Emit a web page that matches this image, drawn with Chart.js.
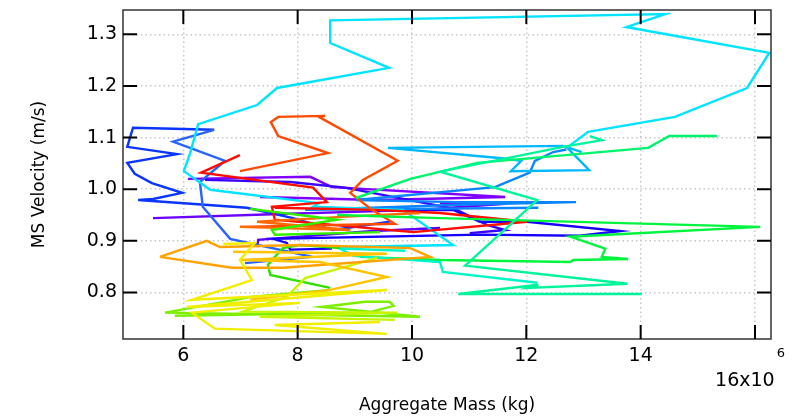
<!DOCTYPE html>
<html>
<head>
<meta charset="utf-8">
<script src="https://cdn.jsdelivr.net/npm/chart.js@4.4.1/dist/chart.umd.min.js"></script>
<style>
  html, body { margin: 0; padding: 0; background: #fff; }
  #wrap { width: 801px; height: 420px; }
</style>
</head>
<body>
<div id="wrap"><canvas id="grafico" width="801" height="420"></canvas></div>
<script>
// Eixos (massa em 10^6 kg, velocidade em m/s)
const xTicks = [6, 8, 10, 12, 14, 16];
const yTicks = [0.8, 0.9, 1.0, 1.1, 1.2, 1.3];

// Séries (massa x10^6 kg / velocidade m/s)
const massCyan = [8.74, 10.72, 9.84, 8.27, 8.37, 6.47, 6.01, 6.12, 6.26, 7.29, 7.64, 9.60, 8.57, 8.57, 14.43, 13.75, 16.25, 15.86, 14.60, 13.08, 12.73];
const velCyan  = [0.888, 0.892, 0.960, 0.966, 0.973, 0.999, 1.035, 1.070, 1.126, 1.163, 1.196, 1.235, 1.283, 1.327, 1.339, 1.314, 1.264, 1.196, 1.140, 1.111, 1.082];

const massSky = [12.97, 12.64, 9.58, 11.57, 11.91, 11.73, 13.10, 12.70];
const velSky  = [1.072, 1.084, 1.080, 1.060, 1.055, 1.035, 1.037, 1.082];

const massDodger = [12.70, 12.47, 12.15, 12.06, 11.45, 9.02, 10.77, 12.87, 10.84, 8.13, 12.21];
const velDodger  = [1.077, 1.072, 1.055, 1.032, 1.004, 0.979, 0.975, 0.975, 0.970, 0.960, 0.964];

const massRoyal = [7.08, 8.25, 6.82, 6.34, 6.29, 6.73, 5.82, 6.54];
const velRoyal  = [0.857, 0.869, 0.904, 0.966, 1.014, 1.055, 1.092, 1.115];

const massBlue1 = [6.54, 5.12, 5.02, 5.89, 5.02, 5.15, 5.45, 5.98, 5.47, 5.21, 7.11, 7.92, 8.62, 9.61];
const velBlue1  = [1.115, 1.119, 1.082, 1.068, 1.051, 1.030, 1.012, 0.993, 0.981, 0.979, 0.964, 0.944, 0.921, 0.937];

const massBlue2 = [8.60, 7.87, 7.81, 7.57, 11.19, 12.94, 13.64, 12.01, 11.19, 10.72, 9.61];
const velBlue2  = [0.885, 0.883, 0.896, 0.904, 0.912, 0.910, 0.919, 0.937, 0.937, 0.960, 0.958];

const massBlueViolet = [6.38, 7.87, 8.83, 10.75, 11.31, 11.63, 11.01];
const velBlueViolet  = [1.018, 1.014, 1.003, 0.962, 0.931, 0.921, 0.915];

const massViolet1 = [6.08, 8.22, 8.60, 11.63, 9.39, 7.34];
const velViolet1  = [1.020, 1.024, 1.004, 0.985, 0.979, 0.985];

const massViolet2 = [5.47, 7.69, 10.14, 11.63, 10.49];
const velViolet2  = [0.944, 0.952, 0.960, 0.972, 0.973];

const massViolet3 = [7.29, 7.31, 9.32, 10.49];
const velViolet3  = [0.888, 0.902, 0.919, 0.925];

const massRed = [6.99, 6.31, 8.27, 8.51, 7.55, 7.60, 10.02, 12.01, 10.49, 9.39, 7.60];
const velRed  = [1.066, 1.032, 1.003, 0.975, 0.966, 0.941, 0.917, 0.937, 0.954, 0.960, 0.964];

const massOrangeRed = [6.99, 8.53, 7.66, 7.53, 7.66, 8.48, 8.37, 9.75, 9.14, 8.92, 9.30, 9.70, 6.99];
const velOrangeRed  = [1.035, 1.070, 1.103, 1.130, 1.140, 1.142, 1.140, 1.055, 1.018, 0.993, 0.960, 0.933, 0.927];

const massOrangeRed2 = [6.99, 8.92, 7.29, 8.69, 10.14];
const velOrangeRed2  = [0.927, 0.921, 0.937, 0.946, 0.954];

const massOrange = [5.59, 6.41, 6.64, 8.04, 9.97, 10.32, 7.74, 6.85, 5.59];
const velOrange  = [0.869, 0.900, 0.888, 0.892, 0.886, 0.869, 0.848, 0.848, 0.869];

const massAmber = [6.87, 9.56, 6.99, 8.39, 9.56, 8.57, 7.17];
const velAmber  = [0.879, 0.875, 0.863, 0.859, 0.830, 0.805, 0.786];

const massYellow = [6.70, 7.25, 6.99, 7.20, 6.15, 9.56, 6.06, 8.04, 6.15, 6.55, 9.56, 7.60, 9.44];
const velYellow  = [0.894, 0.896, 0.863, 0.824, 0.786, 0.805, 0.772, 0.780, 0.761, 0.730, 0.720, 0.737, 0.743];

const massYellowGreen = [9.39, 8.13, 7.81, 7.04, 9.74, 7.34, 9.70];
const velYellowGreen  = [0.867, 0.828, 0.792, 0.763, 0.761, 0.753, 0.747];

const massLime = [8.57, 7.22, 5.68, 10.14, 8.42, 9.18, 9.61, 9.68, 9.23, 5.85];
const velLime  = [0.805, 0.792, 0.761, 0.753, 0.772, 0.782, 0.782, 0.774, 0.761, 0.755];

const massGreen1 = [8.57, 7.52, 7.48, 7.74, 8.04, 8.74];
const velGreen1  = [0.809, 0.834, 0.854, 0.886, 0.892, 0.886];

const massGreen2 = [7.17, 8.69, 7.55, 7.60, 9.44];
const velGreen2  = [0.962, 0.941, 0.921, 0.912, 0.917];

const massSpring1 = [8.69, 10.49, 16.09, 12.77, 13.38, 13.32, 13.78, 12.82, 12.77, 10.49, 9.09];
const velSpring1  = [0.950, 0.944, 0.927, 0.908, 0.885, 0.869, 0.865, 0.863, 0.859, 0.863, 0.869];

const massSpring2 = [15.34, 14.50, 14.13, 11.14, 9.97, 9.02];
const velSpring2  = [1.103, 1.103, 1.080, 1.051, 1.020, 0.983];

const massSpring3 = [13.11, 13.32, 12.64, 10.49, 12.19, 10.93, 13.77, 12.03, 12.21, 10.81, 14.02];
const velSpring3  = [1.103, 1.095, 1.082, 1.034, 0.979, 0.852, 0.817, 0.809, 0.815, 0.797, 0.797];

const massTurq = [9.88, 8.74, 8.97, 10.49, 10.54, 12.19];
const velTurq  = [0.881, 0.885, 0.871, 0.859, 0.840, 0.819];

const series = [
  [massYellow, velYellow, "#f2ee00"],
  [massAmber, velAmber, "#ffc400"],
  [massOrange, velOrange, "#ffa200"],
  [massYellowGreen, velYellowGreen, "#c6f500"],
  [massLime, velLime, "#7cf000"],
  [massGreen1, velGreen1, "#2ee000"],
  [massGreen2, velGreen2, "#33f000"],
  [massTurq, velTurq, "#00f5c8"],
  [massSpring3, velSpring3, "#00f59a"],
  [massSpring2, velSpring2, "#00f56a"],
  [massSpring1, velSpring1, "#00f53c"],
  [massOrangeRed2, velOrangeRed2, "#ff6a00"],
  [massOrangeRed, velOrangeRed, "#ff4a00"],
  [massRed, velRed, "#ff0d00"],
  [massCyan, velCyan, "#00e4ff"],
  [massSky, velSky, "#00b8ff"],
  [massDodger, velDodger, "#0a84ff"],
  [massRoyal, velRoyal, "#2a64ff"],
  [massBlue1, velBlue1, "#0a34ff"],
  [massBlue2, velBlue2, "#1800ff"],
  [massBlueViolet, velBlueViolet, "#3a00ff"],
  [massViolet3, velViolet3, "#5a00ff"],
  [massViolet2, velViolet2, "#6c00ff"],
  [massViolet1, velViolet1, "#8000ff"]
];

const datasets = series.map(([m, v, cor]) => ({
  data: m.map((x, i) => ({ x, y: v[i] })),
  borderColor: cor,
  borderWidth: 2.4,
  pointRadius: 0,
  tension: 0,
  fill: false
}));

const FONTE = "'DejaVu Sans', sans-serif";

// Moldura estilo Igor: caixa fechada, ticks para dentro, rótulo 16x10^6
const molduraIgor = {
  id: "molduraIgor",
  afterDraw(chart) {
    const { ctx, chartArea: a, scales: { x, y } } = chart;
    ctx.save();
    ctx.strokeStyle = "#333";
    ctx.lineWidth = 1.5;
    ctx.strokeRect(a.left, a.top, a.right - a.left, a.bottom - a.top);

    ctx.strokeStyle = "#000";
    ctx.lineWidth = 2;
    ctx.beginPath();
    xTicks.forEach(v => {
      const px = x.getPixelForValue(v);
      ctx.moveTo(px, a.bottom); ctx.lineTo(px, a.bottom - 14);
      ctx.moveTo(px, a.top); ctx.lineTo(px, a.top + 14);
    });
    yTicks.forEach(v => {
      const py = y.getPixelForValue(v);
      ctx.moveTo(a.left, py); ctx.lineTo(a.left + 14, py);
      ctx.moveTo(a.right, py); ctx.lineTo(a.right - 14, py);
    });
    ctx.stroke();

    // último rótulo com expoente
    const ultimo = xTicks[xTicks.length - 1];
    const base = ultimo + "x10";
    ctx.fillStyle = "#000";
    ctx.textBaseline = "alphabetic";
    ctx.textAlign = "left";
    ctx.font = "19px " + FONTE;
    const w1 = ctx.measureText(base).width;
    ctx.font = "13px " + FONTE;
    const w2 = ctx.measureText("6").width;
    const x0 = x.getPixelForValue(ultimo) - (w1 + w2) / 2 - 6;
    ctx.font = "19px " + FONTE;
    ctx.fillText(base, x0, a.bottom + 47);
    ctx.font = "13px " + FONTE;
    ctx.fillText("6", x0 + w1 + 2, a.bottom + 18);
    ctx.restore();
  }
};

new Chart(document.getElementById("grafico").getContext("2d"), {
  type: "line",
  data: { datasets },
  plugins: [molduraIgor],
  options: {
    responsive: false,
    animation: false,
    layout: { padding: { left: 0, right: 30, top: 10, bottom: 0 } },
    plugins: { legend: { display: false }, tooltip: { enabled: false } },
    scales: {
      x: {
        type: "linear",
        min: 4.945,
        max: 16.28,
        afterBuildTicks: s => { s.ticks = xTicks.map(v => ({ value: v })); },
        afterFit: s => { s.height = 81; s.paddingLeft = 0; s.paddingRight = 0; },
        ticks: {
          font: { family: FONTE, size: 19 },
          color: "#000",
          padding: 6,
          maxRotation: 0,
          callback: v => (v === xTicks[xTicks.length - 1] ? "" : String(v))
        },
        grid: { color: "#c8c8c8", lineWidth: 1.5, drawTicks: false },
        border: { display: false, dash: [1.5, 3] },
        title: {
          display: true,
          text: "Aggregate Mass (kg)",
          font: { family: FONTE, size: 17 },
          color: "#000",
          padding: { top: 0, bottom: 4 }
        }
      },
      y: {
        type: "linear",
        min: 0.710,
        max: 1.347,
        afterBuildTicks: s => { s.ticks = yTicks.map(v => ({ value: v })); },
        afterFit: s => { s.width = 123; s.paddingTop = 0; s.paddingBottom = 0; },
        ticks: {
          font: { family: FONTE, size: 19 },
          color: "#000",
          padding: 6,
          callback: v => v.toFixed(1)
        },
        grid: { color: "#c8c8c8", lineWidth: 1.5, drawTicks: false },
        border: { display: false, dash: [1.5, 3] },
        title: {
          display: true,
          text: "MS Velocity (m/s)",
          font: { family: FONTE, size: 17 },
          color: "#000",
          padding: { top: 29, bottom: 0 }
        }
      }
    }
  }
});
</script>
</body>
</html>
